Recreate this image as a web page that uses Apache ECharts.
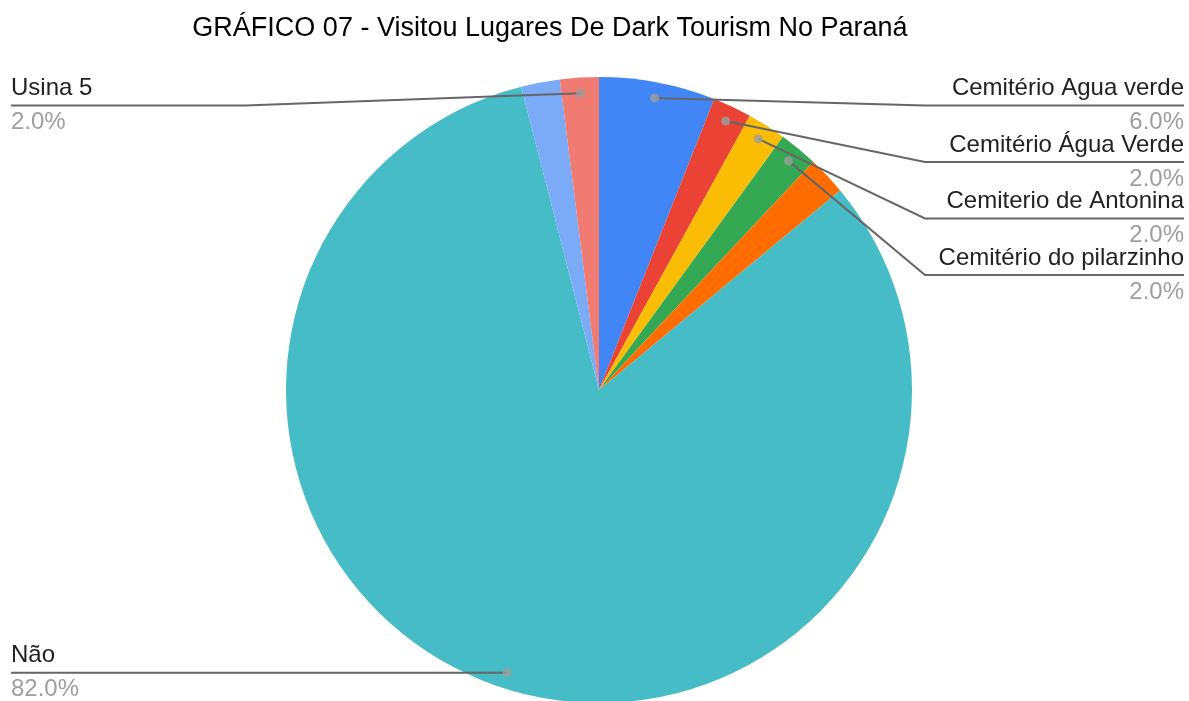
<!DOCTYPE html>
<html><head><meta charset="utf-8">
<script src="https://cdn.jsdelivr.net/npm/echarts@6/dist/echarts.min.js"></script>
<style>html,body{margin:0;padding:0;background:#fff}#c{width:1189px;height:701px}</style>
</head><body><div id="c"></div>
<script>
// ---- data ----
const titleText = 'GRÁFICO 07 - Visitou Lugares De Dark Tourism No Paraná';
const categories = ['Cemitério Agua verde', 'Cemitério Água Verde', 'Cemiterio de Antonina', 'Cemitério do pilarzinho', 'Outro', 'Não', 'Outros', 'Usina 5'];
const values = [6, 2, 2, 2, 2, 82, 2, 2];
const showLabel = [true, true, true, true, false, true, false, true];
const colors = ['#4285F4', '#EA4335', '#FBBC04', '#34A853', '#FF6D01', '#46BDC6', '#7BAAF7', '#F07B72'];

// ---- layout / style ----
const CX = 599, CY = 390, R = 313;
const DOT_R = 0.95;
const total = values.reduce((a, b) => a + b, 0);

const chart = echarts.init(document.getElementById('c'), null, {renderer: 'canvas'});
const W = chart.getWidth();

let cum = 0;
const mids = values.map(v => { const m = cum + v / 2; cum += v; return m / total; });
const dotData = [];
mids.forEach((m, i) => { if (showLabel[i]) dotData.push([DOT_R, m * 100]); });

const layouts = {};
(function () {
  let prevR = -1e9;
  const start = 105.5, gap = 56.5;
  mids.forEach((m, i) => {
    if (!showLabel[i]) return;
    const th = m * 2 * Math.PI;
    const dx = CX + DOT_R * R * Math.sin(th), dy = CY - DOT_R * R * Math.cos(th);
    const right = dx >= CX;
    let y;
    if (right) { y = Math.max(dy, prevR + gap, start); prevR = y; }
    else { y = Math.max(dy, start); }
    layouts[i] = right ? {
      x: W - 5, y: y, align: 'right', verticalAlign: 'middle',
      labelLinePoints: [[dx, dy], [925, y], [W - 5, y]]
    } : {
      x: 11, y: y, align: 'left', verticalAlign: 'middle',
      labelLinePoints: [[dx, dy], [245, y], [11, y]]
    };
  });
})();

const FONT = 'Liberation Sans, Arial, sans-serif';
const pieData = (withStyle) => categories.map((c, i) => ({
  name: c, value: values[i],
  itemStyle: {color: withStyle ? colors[i] : 'rgba(0,0,0,0)'},
  label: {show: !withStyle && showLabel[i]},
  labelLine: {show: !withStyle && showLabel[i]}
}));

const option = {
  animation: false,
  backgroundColor: '#ffffff',
  title: {
    text: titleText, left: 545, top: 10, textAlign: 'center',
    textStyle: {fontFamily: FONT, fontSize: 27, fontWeight: 'normal', color: '#000'}
  },
  polar: {center: [CX, CY], radius: R},
  angleAxis: {type: 'value', min: 0, max: 100, startAngle: 90, clockwise: true, show: false},
  radiusAxis: {type: 'value', min: 0, max: 1, show: false},
  series: [
    {
      type: 'pie', z: 1,
      center: [CX, CY], radius: R,
      startAngle: 90, clockwise: true,
      silent: true,
      itemStyle: {borderWidth: 0},
      label: {show: false}, labelLine: {show: false},
      data: pieData(true)
    },
    {
      type: 'pie', z: 3,
      center: [CX, CY], radius: R,
      startAngle: 90, clockwise: true,
      avoidLabelOverlap: false,
      silent: true,
      itemStyle: {borderWidth: 0},
      label: {
        position: 'outside',
        formatter: p => '{n|' + p.name + '}\n{p|' + (p.value / total * 100).toFixed(1) + '%}',
        rich: {
          n: {fontFamily: FONT, fontSize: 24, color: '#222', lineHeight: 34},
          p: {fontFamily: FONT, fontSize: 24, color: '#9e9e9e', lineHeight: 34}
        }
      },
      labelLine: {length: 10, length2: 10, lineStyle: {color: '#666', width: 2}},
      labelLayout: p => layouts[p.dataIndex] || {},
      data: pieData(false)
    },
    {
      type: 'scatter', coordinateSystem: 'polar', silent: true, z: 5,
      symbol: 'circle', symbolSize: 9,
      itemStyle: {color: '#9e9e9e'},
      data: dotData
    }
  ]
};
chart.setOption(option);
</script></body></html>
